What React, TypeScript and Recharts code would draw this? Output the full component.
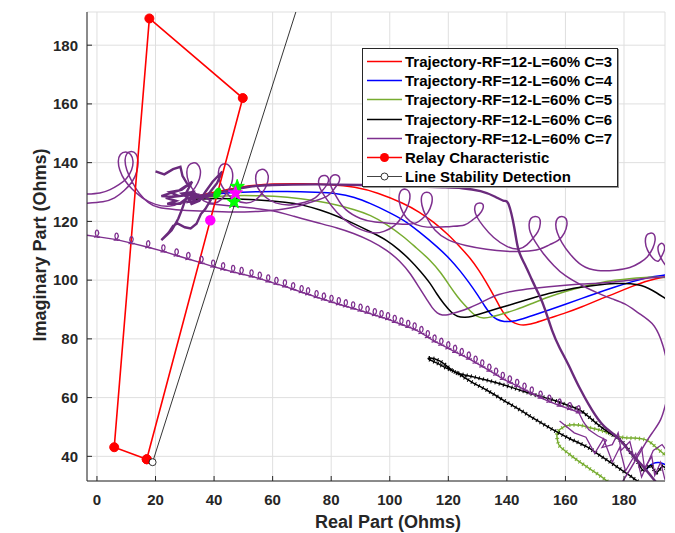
import React from "react";
import { LineChart, Line, XAxis, YAxis, CartesianGrid } from "recharts";

type Pair = [number, number];

const xTicks = [0, 20, 40, 60, 80, 100, 120, 140, 160, 180];
const yTicks = [40, 60, 80, 100, 120, 140, 160, 180];

// trajectories C=3..6 (smooth)
const trajC3: Pair[] = [
  [33, 128.3], [38, 129.5], [45, 131], [52, 132.2], [60, 132.8], [70, 132.9], [80, 132.6], [88, 131.8],
  [96, 129.8], [104.8, 126.1], [110, 123.3], [115, 119.8], [120, 115.5], [124, 111.3], [127.5, 107.5],
  [130.5, 103.3], [133, 99.2], [135.5, 94.8], [137.5, 91], [139.5, 87.8], [141.5, 85.8], [144, 84.8],
  [146.3, 84.6], [150, 85.5], [154.3, 87], [160, 88.8], [165.7, 90.9], [171, 93.2], [177, 95.5], [182.5, 97.8],
  [188.4, 100], [194, 101.1], [196, 101.5],
];
const trajC4: Pair[] = [
  [33, 128], [38, 129], [45, 129.8], [55, 130.2], [65, 130.2], [75, 129.9], [82, 129.6], [88, 128.3],
  [93.4, 126.1], [99, 123.5], [104.8, 120.5], [110, 116.5], [116.2, 111.4], [121, 106.8], [124, 103.2],
  [127, 99.3], [130, 95], [132.5, 91], [134.5, 88.2], [136.5, 86.5], [139, 85.8], [142, 85.9], [144, 86.4],
  [149, 88], [154.3, 89.8], [160, 91.8], [165.7, 93.8], [171, 95.7], [177, 97.7], [182.5, 99.4], [188.4, 101.1],
  [194, 101.7], [196, 102],
];
const trajC5: Pair[] = [
  [33, 127.8], [38, 128.3], [45, 128.8], [55, 128.8], [65, 128.4], [75, 127], [82, 125.6], [88, 124],
  [93.4, 122.2], [99, 119], [104.8, 114.8], [109, 111], [113.9, 106.8], [117.5, 102.5], [120.7, 97.7],
  [123, 94.5], [125.5, 91.5], [127.5, 89.5], [129.5, 87.6], [132, 86.9], [135, 87.5], [138.5, 88.5],
  [142.9, 89.8], [148.5, 92], [154.3, 94.3], [160, 96.2], [165.7, 97.7], [171, 99], [177, 100], [182.5, 100.6],
  [188.4, 101.1], [194, 100.9], [196, 100.8],
];
const trajC6: Pair[] = [
  [33, 127.5], [38, 127.8], [45, 127.8], [55, 127.4], [65, 126.5], [70, 125.7], [76.3, 123.9], [82, 121.8],
  [87.7, 119.3], [93.4, 116.5], [99.1, 113.6], [103, 110.5], [107.1, 106.8], [110.5, 103], [113.9, 98.9],
  [116, 95.3], [118.4, 92], [121, 89], [123, 87.5], [125.8, 87.3], [128, 87.6], [131.5, 88.7], [137, 90.4],
  [142.9, 92.1], [148.5, 93.8], [154.3, 95.5], [160, 96.7], [165.7, 97.7], [171, 98.4], [177, 98.9],
  [182.7, 98.9], [186, 98.2], [188.4, 97.2], [191, 95.8], [194, 93.8], [196, 92.5],
];

// C=7 pieces
const trajC7: Pair[] = [
  [38, 126], [45, 125.3], [52, 124.7], [59.3, 123.9], [67, 121.8], [76.3, 119.3], [82, 117.8], [87.6, 116],
  [93.4, 113.5], [99.1, 110.2], [103.5, 106.5], [107, 102.4], [110, 97.5], [112.8, 93.2], [114.5, 90.5],
  [116.2, 88.7], [118, 88], [119.6, 88.1], [123, 89], [127.5, 90.6], [132, 92.8], [137.2, 95.3], [142.9, 96.5],
  [148.6, 97.2], [154.3, 97.8], [160, 98.3], [165.7, 98.7], [171.3, 98.9], [177, 99.5], [182.7, 100],
  [188.4, 100.8], [194, 101.1], [196, 101.2],
];
const c7LoopsA: Pair[] = [
  [-3.5, 129.3], [1, 129.7], [4.5, 130.8], [7.5, 132.5], [10, 134.5], [11.8, 137.5], [12.3, 140.5], [11.5, 142.8],
  [9.8, 143.6], [8, 142.8], [7.3, 140.5], [7.8, 137.5], [9.5, 134], [12, 131], [15.5, 128], [20, 125.8],
  [25, 125.2], [28.5, 126.5],
  [31, 128.5], [33.5, 131.5], [35, 134.5], [35.3, 137.5], [34.3, 139.5], [32.8, 139.9], [31.3, 139], [30.7, 136.8],
  [31.3, 133.5], [33.5, 129.8], [36.5, 127], [40, 126.2],
  [42.5, 127.5], [44.5, 130], [46, 133], [46.3, 136.5], [45.3, 138.8], [43.8, 139.6], [42.3, 139], [41.5, 136.8],
  [42, 133.5], [44, 130], [47, 127.3], [51, 126.3],
  [54, 127.2], [56.3, 129.5], [58, 132.5], [58.5, 135.5], [57.6, 137.3], [56.1, 137.7], [54.7, 136.8], [54.2, 134.5],
  [55, 131.3], [57.5, 128.3], [61, 126.3], [66, 125.6], [71, 126.5],
  [74.5, 128], [77, 130.5], [78.8, 133], [79, 134.8], [78, 135.6], [76.5, 135.3], [75.7, 133.8], [76.2, 131.3],
  [78.5, 127.5], [82, 123], [87, 118.8], [93.4, 116.2], [98, 116.6], [101.5, 118.5],
  [103.8, 121], [105.6, 124], [106.7, 127], [106.8, 129.5], [105.8, 130.8], [104.3, 130.8], [103.3, 129.3],
  [103.3, 126.5], [104.5, 123], [107, 120], [111, 118.3], [116, 118], [121, 118.3], [125.5, 118.8],
  [128.3, 120.5], [130.5, 122.3], [131.8, 124.3], [131.8, 125.8], [130.8, 126.3], [129.5, 125.8], [129, 124],
  [129.8, 121.5], [132, 118.3], [135.5, 114.5], [140, 111.5], [144, 110.6], [146.8, 112],
  [148.7, 114], [150.6, 116.5], [151.4, 119.3], [151, 121.2], [149.6, 121.7], [148.2, 121], [147.6, 119],
  [148, 116.3], [149.7, 113], [152.5, 109], [156, 105], [160, 101.5], [166, 98], [171.3, 95.5], [176, 93.6],
  [180.4, 91.8], [185, 88.8], [189.6, 85.2], [192.5, 80], [194.5, 73], [195.5, 66],
];
const c7LoopsB: Pair[] = [
  [-3.5, 126.2], [2, 126.7], [6, 128], [9.3, 130.5], [12, 133.5], [13.6, 137], [14, 140.5], [13.3, 143],
  [11.7, 143.8], [10.2, 143], [9.6, 140.8], [10.2, 137.5], [12, 133.5], [14.5, 129.5], [17.5, 126.5],
  [21, 124.8], [27, 124], [35, 123.5], [45, 123.2], [55, 123.4], [62, 124], [68, 125], [73, 126.5],
  [78.5, 128.5], [81, 131], [82.6, 133.3], [82.8, 135], [81.9, 135.8], [80.4, 135.6], [79.6, 134.2], [80, 131.8],
  [82, 128], [85, 124], [90, 121], [95, 119.8], [101, 119.3], [106, 119], [109, 119.5],
  [111, 120.8], [113, 123], [114.3, 126], [114.4, 128.5], [113.4, 129.8], [111.9, 129.8], [110.9, 128.5],
  [111, 125.5], [112.5, 121.5], [115.5, 117], [120, 113.7], [126, 111.8], [133, 110.5], [140, 109.8],
  [146, 109.8], [151, 110.5], [154.5, 112],
  [157.5, 113.5], [159.6, 116], [160.5, 118.8], [160.2, 120.9], [158.8, 121.7], [157.3, 121], [156.7, 119],
  [157.2, 116.2], [158.8, 112.8], [161.5, 109], [165.7, 105], [171, 103.3], [177, 103.4], [182, 104.3], [185.5, 106],
  [188, 108], [189.8, 110.8], [190.6, 113.5], [190.3, 115.5], [189, 116], [187.7, 115.2], [187.3, 113], [188, 110.3],
  [190, 107.3], [191.8, 106.5],
  [192.8, 108], [193.8, 110.3], [193.6, 112], [192.6, 112.5], [191.7, 111.5], [191.8, 109.5], [193.2, 106.5],
  [195.5, 103.5], [197, 102],
];
const c7ArcReturn: Pair[] = [
  [195.5, 62], [194, 57], [192.5, 52.5], [190, 48.5], [188.3, 46], [185, 40.5], [181.5, 34.6], [178, 29],
];
const c7Scallop: Pair[] = [
  [-3.5, 115.3], [0, 114.8], [6.7, 113.8], [11.8, 112.6], [17.5, 111.2], [22.7, 109.8], [27.2, 108.4],
  [31.2, 107.2], [35.7, 105.9], [39.7, 104.6], [43.1, 103.7], [46.5, 102.8], [49.4, 102.1], [52.8, 101.3],
  [55.6, 100.5], [58.5, 99.6], [61.3, 98.7], [64.2, 97.9], [67, 96.9], [69.9, 95.9], [72.1, 95.2], [75, 94.2],
  [77.5, 93.4], [80.1, 92.6], [82.6, 91.8], [85, 91.1], [87.5, 90.4], [90, 89.6], [92.4, 88.9], [94.9, 88.1],
  [97.2, 87.4], [99.4, 86.7], [101.7, 85.8], [104, 84.9], [106.3, 84.1], [108.5, 83.2], [110.8, 82],
  [113, 80.6], [115.3, 79.1], [117.6, 78], [120, 76.8], [122.3, 75.6], [124.6, 74.5], [127, 73.3],
  [129.3, 71.9], [131.6, 70.6], [134, 69.2], [136.3, 67.8], [138.6, 66.4], [141, 65.2], [143.5, 64],
  [146, 62.7], [148.5, 61.4], [151.5, 60], [154.5, 58.6], [158, 57.3], [161.5, 56.1], [164.5, 55],
];
const c7Web1: Pair[] = [
  [164.5, 55], [166, 52], [168, 49], [171, 47], [174, 45.5], [172.5, 43], [176, 44], [178, 48], [179, 42],
  [182, 45], [183.5, 39], [186, 43], [187, 36], [189.5, 40], [190.5, 33.5], [192.5, 38], [194, 32],
];
const c7Web2: Pair[] = [
  [158, 52], [163, 48], [167, 46.5], [170, 41], [173, 46], [176, 38], [178.5, 43], [180.5, 35], [184, 41],
  [186, 33], [190, 42], [193, 44], [196, 40],
];
const c7Thick: Pair[] = [
  [36, 128.5], [45, 130.5], [52, 131.8], [60, 132.4], [75, 132.6], [90, 132.4], [105, 132], [118, 131.6],
  [124.7, 131.3], [131, 130.3], [136, 128.4], [139, 127], [140.6, 125.8], [142.5, 118], [144, 110.2],
  [146.3, 105], [148.6, 100], [151, 95], [153.1, 89.8], [155.4, 83], [158, 77], [161.1, 71], [165, 63],
  [170.2, 54], [174, 49.5], [178.2, 46], [182, 41.5], [186.1, 37], [190.7, 31.5], [192, 30],
];
const c7Blob: Pair[] = [
  [20, 137], [23, 136], [26, 137.8], [28.5, 138.6], [29.2, 135.5], [31, 132.5], [28, 130.5], [25, 130],
  [27.5, 128.8], [23.5, 128], [27, 127], [24, 126], [28.5, 126], [31, 128], [29, 129.5], [33, 130], [31.5, 127],
  [34.5, 128.8], [32, 125.8], [35, 127], [37, 130], [39.5, 133.5], [42.8, 137], [41, 133], [38.5, 129.8],
  [36, 127.8], [33, 126.5], [30, 126.8], [29, 124], [27.8, 121], [27, 119.5], [25.5, 117], [24, 115.5],
  [22, 113.6], [24.5, 116.2], [26, 118.5], [27.5, 119.3], [30, 118], [32, 117.6], [34, 119.2], [35.5, 122.5],
  [37, 124.2], [38.8, 127.2], [36, 128.8], [31, 129], [26, 128.4], [22, 128.6], [25, 129.6], [29, 130.8],
  [32.5, 133.5], [30.5, 129.8], [34, 129.2], [31, 127.5], [35.5, 128.4], [40, 128.8],
];

// C=6 / C=5 / C=4 lower fragments
const c6Fork1: Pair[] = [
  [123, 68.4], [119, 70.2], [116, 71.8], [113.3, 73.1], [114, 73.5], [117, 72.5], [120, 70.3], [123, 68.4],
  [128, 67.2], [133.2, 65.9], [139, 64.3], [144.6, 62.5], [150, 60.8], [156, 59.1], [160.5, 57.5], [165, 55.7],
  [168.5, 53], [171.9, 50.2], [175, 48], [178.7, 45.5], [181, 43], [183.3, 39.8], [185, 37.5], [187, 35],
  [189, 37], [191, 34.5], [193, 36.5], [195, 35],
];
const c6Fork2: Pair[] = [
  [123, 68.4], [128, 65.3], [133.2, 62.5], [139, 59], [144.6, 55.7], [150, 52.4], [156, 48.9], [161.5, 46],
  [167.4, 43.2], [171, 40.8], [174.2, 38.7], [177.5, 36.5], [181, 34.1], [184, 32], [186.5, 30],
];
const c5Lower: Pair[] = [
  [196, 39], [191, 43], [187.8, 45.5], [183, 46.2], [178.7, 46.6], [175, 47.8], [171.9, 48.9], [168, 49.8],
  [165, 50.6], [161.5, 50.7], [159.4, 50], [157.5, 48.5], [157.1, 46.6], [157.5, 44.5], [158.3, 43.2],
  [161, 41], [164, 38.7], [167.5, 36.3], [170.8, 34.1], [174.2, 31.6], [176, 30],
];
const c4Lower: Pair[] = [
  [187.5, 35.2], [188.6, 36.6], [190, 37.6], [192, 37.9], [194, 37.2], [196, 36.5],
];

// relay characteristic and stability line
const relayPts: Pair[] = [[17, 39], [49.8, 162], [17.9, 189.1], [5.9, 43.1], [17, 39]];
const stabilityPts: Pair[] = [[19, 38], [70.7, 200]];

// operating markers
const magentaDots: Pair[] = [[38.7, 120.4]];
const greenDots: Pair[] = [[41.1, 129.6]];
const greenStars: Pair[] = [[47.9, 131.8], [46.8, 126.7]];
const magentaStars: Pair[] = [[47.3, 129.6]];

const legendNames = [
  "Trajectory-RF=12-L=60% C=3",
  "Trajectory-RF=12-L=60% C=4",
  "Trajectory-RF=12-L=60% C=5",
  "Trajectory-RF=12-L=60% C=6",
  "Trajectory-RF=12-L=60% C=7",
  "Relay Characteristic",
  "Line Stability Detection",
];

const RED = "#FF0000";
const BLUE = "#0000FF";
const GREEN = "#77AC30";
const BLACK = "#000000";
const PURPLE = "#7E2F8E";
const DARK_PURPLE = "#6A2A7C";
const AXIS = "#262626";
const FONT = "Arial, 'Liberation Sans', Helvetica, sans-serif";

const legendColors = [RED, BLUE, GREEN, BLACK, PURPLE, RED, "#444444"];

const toXY = (pts: Pair[]) => pts.map(([x, y]) => ({ x, y }));

const CurlDot = (props: any) => {
  const { cx, cy, index } = props;
  if (cx == null || cy == null || index === 0) return <g key={`c${index}`} />;
  const d = `M${cx - 3},${cy + 0.5} C${cx + 1},${cy + 0.8} ${cx + 2.8},${cy - 3.5} ${cx + 1},${cy - 6} C${cx - 0.6},${cy - 7.8} ${cx - 2.8},${cy - 4.5} ${cx - 1},${cy - 1} C${cx},${cy + 1.2} ${cx + 1.8},${cy + 1} ${cx + 3},${cy}`;
  return <path key={`c${index}`} d={d} fill="none" stroke={PURPLE} strokeWidth={1.3} />;
};

const RelayDot = (props: any) => {
  const { cx, cy, index } = props;
  return <circle key={`r${index}`} cx={cx} cy={cy} r={4.5} fill={RED} stroke={RED} />;
};

const StabilityDot = (props: any) => {
  const { cx, cy, index } = props;
  if (index !== 0) return <g key={`s${index}`} />;
  return <circle key={`s${index}`} cx={cx} cy={cy} r={3.5} fill="#fff" stroke="#000" strokeWidth={0.8} />;
};

const starPath = (cx: number, cy: number, ro: number, ri: number) => {
  let d = "";
  for (let i = 0; i < 10; i++) {
    const r = i % 2 === 0 ? ro : ri;
    const a = -Math.PI / 2 + (i * Math.PI) / 5;
    d += `${i === 0 ? "M" : "L"}${cx + r * Math.cos(a)},${cy + r * Math.sin(a)}`;
  }
  return d + "Z";
};

const makeStar = (color: string) => (props: any) => {
  const { cx, cy, index } = props;
  return <path key={`st${color}${index}`} d={starPath(cx, cy, 7.5, 3)} fill={color} stroke={color} />;
};

const MagentaDot = (props: any) => {
  const { cx, cy, index } = props;
  return <circle key={`m${index}`} cx={cx} cy={cy} r={5.2} fill="#FF00FF" />;
};

const GreenBlob = (props: any) => {
  const { cx, cy, index } = props;
  return <ellipse key={`g${index}`} cx={cx} cy={cy} rx={3.6} ry={6} transform={`rotate(25 ${cx} ${cy})`} fill="#00EE00" />;
};

const LegendBox = () => (
  <div
    style={{
      position: "absolute",
      left: 362,
      top: 48,
      width: 254,
      height: 137,
      background: "#fff",
      border: `1px solid ${AXIS}`,
      boxShadow: "1px 1px 0 #9a9a9a",
      fontFamily: FONT,
      fontWeight: "bold",
      fontSize: 15,
      color: "#000",
    }}
  >
    {legendNames.map((name, i) => (
      <div key={name} style={{ position: "absolute", left: 0, top: 3 + i * 19.2, height: 19, display: "flex", alignItems: "center", whiteSpace: "nowrap" }}>
        <svg width={42} height={19} style={{ display: "block" }}>
          <line x1={4} y1={9.5} x2={39} y2={9.5} stroke={legendColors[i]} strokeWidth={i === 6 ? 1 : 1.6} />
          {i === 5 && <circle cx={21.5} cy={9.5} r={4.5} fill={RED} />}
          {i === 6 && <circle cx={21.5} cy={9.5} r={3.5} fill="#fff" stroke="#000" strokeWidth={0.8} />}
        </svg>
        <span>{name}</span>
      </div>
    ))}
  </div>
);

export default function App() {
  const thin = { dot: false, activeDot: false, isAnimationActive: false } as const;
  return (
    <div style={{ position: "absolute", left: 0, top: 0, width: 675, height: 533, background: "#fff" }}>
      <style>{`.teeth path.recharts-line-curve { stroke-dasharray: 1 3.2; }`}</style>
      <LineChart width={675} height={533} margin={{ top: 12, right: 10, bottom: 0, left: 0 }}>
        <CartesianGrid stroke="#dfdfdf" strokeWidth={1} />
        <XAxis
          type="number"
          dataKey="x"
          domain={[-3.4, 194]}
          ticks={xTicks}
          allowDataOverflow
          height={52}
          tickSize={-5}
          tickMargin={18}
          stroke={AXIS}
          tick={{ fill: AXIS, fontSize: 15, fontWeight: "bold", fontFamily: FONT }}
          label={{
            content: (p: any) => {
              const vb = p.viewBox || { x: 87, width: 578 };
              return (
                <text x={vb.x + vb.width / 2 + 12} y={528} textAnchor="middle" fill={AXIS} fontSize={18} fontWeight="bold" fontFamily={FONT}>
                  Real Part (Ohms)
                </text>
              );
            },
          }}
        />
        <YAxis
          type="number"
          domain={[31.6, 191.3]}
          ticks={yTicks}
          allowDataOverflow
          width={87}
          tickSize={-5}
          tickMargin={14}
          stroke={AXIS}
          tick={{ fill: AXIS, fontSize: 15, fontWeight: "bold", fontFamily: FONT }}
          label={{
            content: () => (
              <text x={46} y={245} transform="rotate(-90 46 245)" textAnchor="middle" fill={AXIS} fontSize={18} fontWeight="bold" fontFamily={FONT}>
                Imaginary Part (Ohms)
              </text>
            ),
          }}
        />

        <Line data={toXY(trajC3)} dataKey="y" type="basis" stroke={RED} strokeWidth={1.5} {...thin} />
        <Line data={toXY(trajC4)} dataKey="y" type="basis" stroke={BLUE} strokeWidth={1.5} {...thin} />
        <Line data={toXY(c4Lower)} dataKey="y" type="natural" stroke={BLUE} strokeWidth={1.5} {...thin} />
        <Line data={toXY(trajC5)} dataKey="y" type="basis" stroke={GREEN} strokeWidth={1.5} {...thin} />
        <Line data={toXY(c5Lower)} dataKey="y" type="natural" stroke={GREEN} strokeWidth={1.5} {...thin} />
        <Line data={toXY(c5Lower)} dataKey="y" type="natural" stroke={GREEN} strokeWidth={4} className="teeth" {...thin} />
        <Line data={toXY(trajC6)} dataKey="y" type="basis" stroke={BLACK} strokeWidth={1.5} {...thin} />
        <Line data={toXY(c6Fork1)} dataKey="y" type="natural" stroke={BLACK} strokeWidth={1.5} {...thin} />
        <Line data={toXY(c6Fork1)} dataKey="y" type="natural" stroke={BLACK} strokeWidth={4} className="teeth" {...thin} />
        <Line data={toXY(c6Fork2)} dataKey="y" type="natural" stroke={BLACK} strokeWidth={1.5} {...thin} />
        <Line data={toXY(c6Fork2)} dataKey="y" type="natural" stroke={BLACK} strokeWidth={4} className="teeth" {...thin} />

        <Line data={toXY(trajC7)} dataKey="y" type="basis" stroke={PURPLE} strokeWidth={1.5} {...thin} />
        <Line data={toXY(c7LoopsA)} dataKey="y" type="natural" stroke={PURPLE} strokeWidth={1.5} {...thin} />
        <Line data={toXY(c7LoopsB)} dataKey="y" type="natural" stroke={PURPLE} strokeWidth={1.5} {...thin} />
        <Line data={toXY(c7ArcReturn)} dataKey="y" type="natural" stroke={PURPLE} strokeWidth={1.5} {...thin} />
        <Line data={toXY(c7Scallop)} dataKey="y" type="linear" stroke={PURPLE} strokeWidth={1.4} dot={CurlDot} activeDot={false} isAnimationActive={false} />
        <Line data={toXY(c7Web1)} dataKey="y" type="linear" stroke={PURPLE} strokeWidth={1.3} {...thin} />
        <Line data={toXY(c7Web2)} dataKey="y" type="linear" stroke={PURPLE} strokeWidth={1.3} {...thin} />
        <Line data={toXY(c7Thick)} dataKey="y" type="natural" stroke={DARK_PURPLE} strokeWidth={2.4} {...thin} />
        <Line data={toXY(c7Blob)} dataKey="y" type="linear" stroke={DARK_PURPLE} strokeWidth={2.4} {...thin} />

        <Line data={toXY(relayPts)} dataKey="y" type="linear" stroke={RED} strokeWidth={1.6} dot={RelayDot} activeDot={false} isAnimationActive={false} />
        <Line data={toXY(stabilityPts)} dataKey="y" type="linear" stroke={BLACK} strokeWidth={0.8} dot={StabilityDot} activeDot={false} isAnimationActive={false} />

        <Line data={toXY(greenDots)} dataKey="y" stroke="none" dot={GreenBlob} activeDot={false} isAnimationActive={false} />
        <Line data={toXY(greenStars)} dataKey="y" stroke="none" dot={makeStar("#00FF00")} activeDot={false} isAnimationActive={false} />
        <Line data={toXY(magentaStars)} dataKey="y" stroke="none" dot={makeStar("#FF00FF")} activeDot={false} isAnimationActive={false} />
        <Line data={toXY(magentaDots)} dataKey="y" stroke="none" dot={MagentaDot} activeDot={false} isAnimationActive={false} />
      </LineChart>
      <LegendBox />
    </div>
  );
}
